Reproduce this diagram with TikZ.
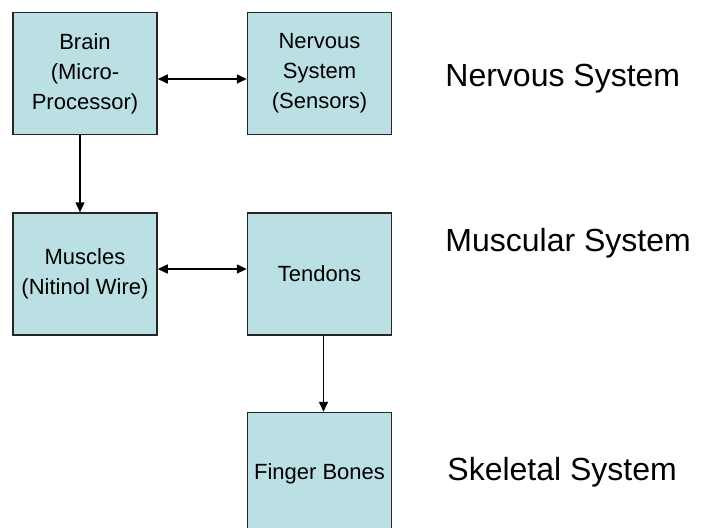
\documentclass[tikz,border=0pt]{standalone}
\usepackage{fontspec}
\setmainfont{Liberation Sans}
\usetikzlibrary{positioning, arrows.meta}
\definecolor{boxfill}{RGB}{187,224,227}

\begin{document}
\begin{tikzpicture}[
  part/.style={draw=black!85, fill=boxfill, line width=0.75pt, minimum width=72pt,
               minimum height=61pt, align=center, inner sep=2pt,
               font=\fontsize{11}{15}\selectfont},
  sysname/.style={anchor=west, inner sep=0pt, font=\fontsize{16}{19}\selectfont},
  arr/.style={-{Triangle[length=5pt, width=4.5pt]}, line width=0.75pt},
  biarr/.style={{Triangle[length=5pt, width=4.5pt]}-{Triangle[length=5pt, width=4.5pt]}, line width=0.75pt},
]

% Frame
\clip (0,0) rectangle (352pt,-263.5pt);
\useasboundingbox (0,0) rectangle (352pt,-263.5pt);

% Top row
\node[part] (brain) at (42.5pt,-36.75pt) {Brain\\(Micro-\\Processor)};
\node[part, right=44.5pt of brain] (nerv) {Nervous\\System\\(Sensors)};

% Middle row
\node[part, below=38.5pt of brain] (musc) {Muscles\\(Nitinol Wire)};
\node[part, right=44.5pt of musc] (tend) {Tendons};

% Bottom row
\node[part, below=38pt of tend] (bones) {Finger Bones};

% System names
\node[sysname] (nervsys) at (222.5pt,-39.5pt) {Nervous System};
\node[sysname] (muscsys) at (222.5pt,-121.5pt) {Muscular System};
\node[sysname] (skelsys) at (223.5pt,-236pt) {Skeletal System};

% Arrows
\draw[biarr] ([yshift=-2.75pt]brain.east) -- ([yshift=-2.75pt]nerv.west);
\draw[biarr] ([yshift=2.5pt]musc.east) -- ([yshift=2.5pt]tend.west);
\draw[arr] ([xshift=-2.5pt]brain.south) -- ([xshift=-2.5pt]musc.north);
\draw[arr] ([xshift=2pt]tend.south) -- ([xshift=2pt]bones.north);

\end{tikzpicture}
\end{document}
